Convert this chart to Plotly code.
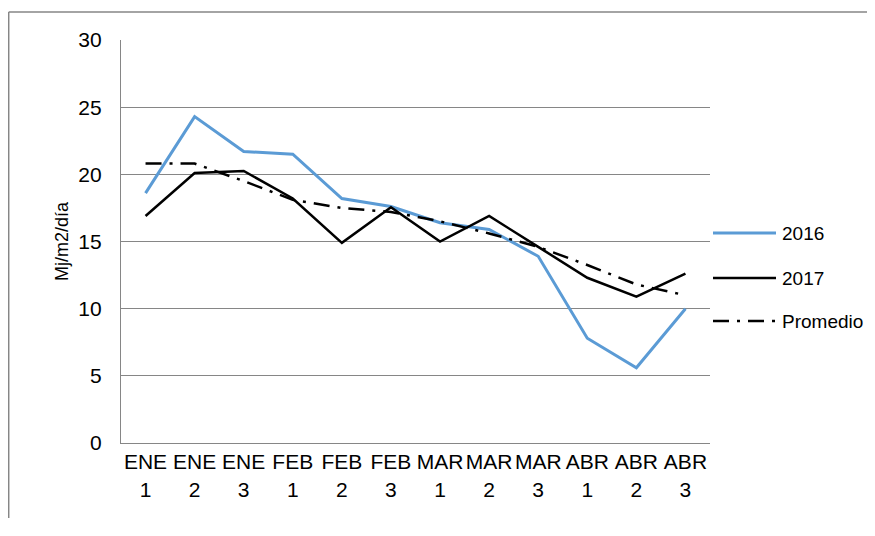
import plotly.graph_objects as go

categories = ["ENE<br>1", "ENE<br>2", "ENE<br>3", "FEB<br>1", "FEB<br>2", "FEB<br>3",
              "MAR<br>1", "MAR<br>2", "MAR<br>3", "ABR<br>1", "ABR<br>2", "ABR<br>3"]
s2016 = [18.6, 24.3, 21.7, 21.5, 18.2, 17.6, 16.4, 15.9, 13.9, 7.8, 5.6, 10.0]
s2017 = [16.9, 20.1, 20.25, 18.2, 14.9, 17.55, 15.0, 16.9, 14.6, 12.3, 10.9, 12.6]
promedio = [20.8, 20.8, 19.5, 18.1, 17.5, 17.2, 16.5, 15.6, 14.6, 13.25, 11.8, 11.0]
y_ticks = [0, 5, 10, 15, 20, 25, 30]

BLUE = "#5B9BD5"
GRID = "#868686"
FONT = "Liberation Sans, Arial, sans-serif"
DASH = "16px,8px,3px,8px"

fig = go.Figure()
fig.add_trace(go.Scatter(x=categories, y=s2016, mode="lines", name="2016",
                         line=dict(color=BLUE, width=3)))
fig.add_trace(go.Scatter(x=categories, y=s2017, mode="lines", name="2017",
                         line=dict(color="black", width=2.5)))
fig.add_trace(go.Scatter(x=categories, y=promedio, mode="lines", name="Promedio",
                         line=dict(color="black", width=2.5, dash=DASH)))

# figure is drawn 8px inside the page (body margin), so sizes compensate
W, H = 867, 510
ML, MT = 113, 32
PW, PH = 589, 403
MR = W - ML - PW
MB = H - MT - PH


def px_x(x):
    return (x - 8 - ML) / PW


def px_y(y):
    return (MT + PH - (y - 8)) / PH


legend_items = [("2016", dict(color=BLUE, width=3), 233),
                ("2017", dict(color="black", width=2.5), 278),
                ("Promedio", dict(color="black", width=2.5, dash=DASH), 321)]
shapes = []
annotations = []
for name, ln, yy in legend_items:
    shapes.append(dict(type="line", xref="paper", yref="paper", x0=px_x(713), x1=px_x(776),
                       y0=px_y(yy), y1=px_y(yy), line=ln))
    annotations.append(dict(text=name, xref="paper", yref="paper", x=px_x(780), y=px_y(yy),
                            xanchor="left", yanchor="middle", showarrow=False,
                            font=dict(size=19, color="black", family=FONT)))
# outer frame (top and left edges only are visible)
frame = dict(color=GRID, width=1.5)
shapes.append(dict(type="line", xref="paper", yref="paper", x0=px_x(8.7), x1=px_x(874),
                   y0=px_y(12), y1=px_y(12), line=frame, layer="below"))
shapes.append(dict(type="line", xref="paper", yref="paper", x0=px_x(8.7), x1=px_x(8.7),
                   y0=px_y(12), y1=px_y(518), line=frame, layer="below"))

fig.update_layout(
    width=W, height=H,
    margin=dict(l=ML, r=MR, t=MT, b=MB),
    paper_bgcolor="white", plot_bgcolor="white",
    showlegend=False,
    font=dict(family=FONT, size=21, color="black"),
    shapes=shapes, annotations=annotations,
    xaxis=dict(type="category", range=[-0.5, 11.5], showgrid=False,
               showline=True, linecolor=GRID, linewidth=1.2, ticks="",
               tickfont=dict(size=21), fixedrange=True),
    yaxis=dict(range=[0, 30], tickvals=y_ticks, showgrid=True, gridcolor=GRID,
               gridwidth=1.2, zeroline=False, showline=True, linecolor=GRID,
               linewidth=1.2, ticks="", ticklabelstandoff=14, tickfont=dict(size=21),
               title=dict(text="Mj/m2/día", font=dict(size=18), standoff=5),
               automargin=False, fixedrange=True),
)
fig.write_html("out.html")
